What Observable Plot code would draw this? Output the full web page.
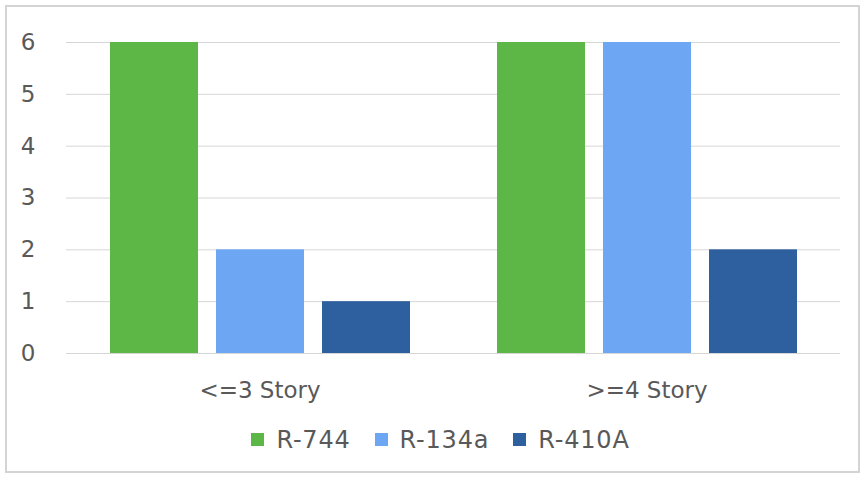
<!DOCTYPE html>
<html>
<head>
<meta charset="utf-8">
<script src="https://cdn.jsdelivr.net/npm/d3@7"></script>
<script src="https://cdn.jsdelivr.net/npm/@observablehq/plot@0.6"></script>
<style>
  html, body { margin: 0; padding: 0; background: white; }
  #frame { position: absolute; left: 5px; top: 5px; width: 851px; height: 464px; border: 2px solid #d4d4d4; background: white; }
  #chart { position: absolute; left: 0; top: 0; }
  #legend { position: absolute; left: 0; top: 416px; width: 100%; display: flex; justify-content: center; padding-left: 40px; box-sizing: border-box; }
</style>
</head>
<body>
<div id="frame">
  <div id="chart"></div>
  <div id="legend"></div>
</div>
<script>
const categories = ["<=3 Story", ">=4 Story"];
const series = ["R-744", "R-134a", "R-410A"];
const r744 = [6, 6];
const r134a = [2, 6];
const r410a = [1, 2];
const colors = ["#5cb746", "#6da7f4", "#2e5f9f"];
const yTicks = [0, 1, 2, 3, 4, 5, 6];

const seriesValues = [r744, r134a, r410a];
const rows = [];
categories.forEach((c, i) => {
  series.forEach((s, j) => rows.push({cat: c, series: s, value: seriesValues[j][i]}));
});

const fontStyle = {fontFamily: "DejaVu Sans, sans-serif", fontSize: "23px", color: "#595959", background: "white"};

const chart = Plot.plot({
  width: 851,
  height: 410,
  marginLeft: 58,
  marginRight: 18,
  marginTop: 35,
  marginBottom: 64,
  style: fontStyle,
  facet: {data: rows, x: "cat"},
  fx: {domain: categories, padding: 0, label: null, tickSize: 0, tickPadding: 28, axis: "bottom"},
  x: {domain: series, axis: null, paddingInner: 0.17, paddingOuter: 0.41},
  y: {domain: [0, 6], ticks: yTicks, tickSize: 0, tickPadding: 31, label: null, tickFormat: d => String(d)},
  color: {domain: series, range: colors},
  marks: [
    Plot.ruleY(yTicks, {stroke: "#d6d6d6", strokeWidth: 1}),
    Plot.barY(rows, {x: "series", y: "value", fill: "series"})
  ]
});
document.getElementById("chart").appendChild(chart);

const legend = Plot.legend({
  color: {domain: series, range: colors},
  legend: "swatches",
  swatchSize: 13,
  style: {fontFamily: "DejaVu Sans, sans-serif", fontSize: "24px", color: "#595959", letterSpacing: "0.8px"}
});
document.getElementById("legend").appendChild(legend);
</script>
</body>
</html>
